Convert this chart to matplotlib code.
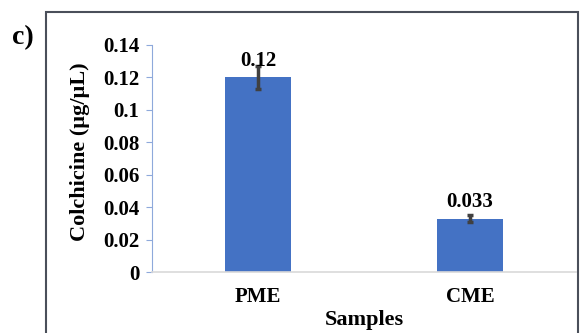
import matplotlib.pyplot as plt
from matplotlib.patches import Rectangle

samples = ["PME", "CME"]
colchicine = [0.12, 0.033]
errors = [0.007, 0.002]
value_labels = ["0.12", "0.033"]
yticks = [0, 0.02, 0.04, 0.06, 0.08, 0.1, 0.12, 0.14]
ytick_labels = ["0", "0.02", "0.04", "0.06", "0.08", "0.1", "0.12", "0.14"]

plt.rcParams['font.family'] = ['Liberation Serif', 'DejaVu Serif']
plt.rcParams['font.weight'] = 'bold'

fig = plt.figure(figsize=(5.8, 3.33), dpi=100)
ax = fig.add_axes([0.262, 0.183, 0.731, 0.682])

x = range(len(samples))
ax.bar(x, colchicine, width=0.31, color="#4472C4", zorder=2)
ax.errorbar(x, colchicine, yerr=errors, fmt="none", ecolor="#404040",
            elinewidth=2.5, capsize=2.5, capthick=2.5, zorder=3)

for xi, v, lab in zip(x, colchicine, value_labels):
    ax.text(xi, v + 0.0068, lab, ha="center", va="baseline",
            fontsize=15, fontweight="bold")

ax.set_xlim(-0.5, 1.5)
ax.set_ylim(0, 0.14)
ax.set_yticks(yticks)
ax.set_yticklabels(ytick_labels)
ax.set_xticks(list(x))
ax.set_xticklabels(samples)
ax.tick_params(axis="y", length=4, color="#8EA9DB", labelsize=15, pad=5)
ax.tick_params(axis="x", length=0, labelsize=15, pad=11)

for side in ["top", "right"]:
    ax.spines[side].set_visible(False)
ax.spines["left"].set_color("#8EA9DB")
ax.spines["bottom"].set_color("#D9D9D9")
ax.spines["bottom"].set_linewidth(1.2)

ax.set_ylabel("Colchicine (µg/µL)", fontsize=16, fontweight="bold")
ax.yaxis.set_label_coords(-0.146, 0.53)
ax.set_xlabel("Samples", fontsize=16, fontweight="bold", labelpad=2)

# frame around the panel, open at the bottom
fig.patches.append(Rectangle((46 / 580, -0.1), 532 / 580, 1.1 - 12 / 333,
                             transform=fig.transFigure, fill=False,
                             edgecolor="#4a4f5a", linewidth=1.5))
fig.text(12 / 580, 1 - 38 / 333, "c)", fontsize=20, fontweight="bold", va="center")

fig.savefig("out.png", dpi=100)
